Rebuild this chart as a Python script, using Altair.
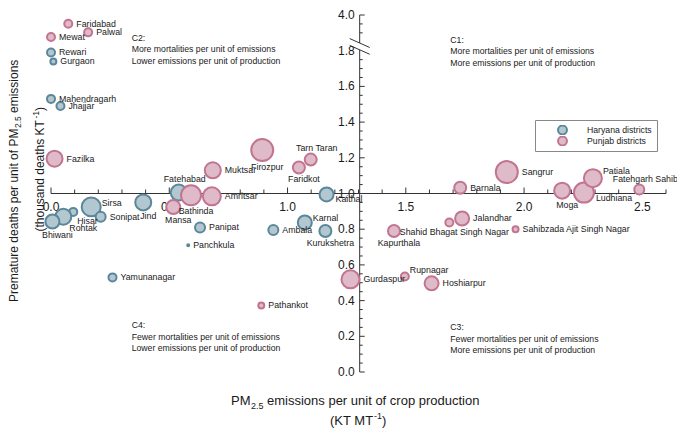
import altair as alt
import pandas as pd

FONT = "Liberation Sans"
TXT = "#1a1a1a"
AXC = "#333333"

# ---------------- data ----------------
districts = [
    "Rewari", "Gurgaon", "Mahendragarh", "Jhajjar", "Fatehabad", "Kaithal", "Sirsa", "Jind",
    "Hisar", "Rohtak", "Bhiwani", "Sonipat", "Panipat", "Panchkula", "Yamunanagar", "Ambala",
    "Karnal", "Kurukshetra",
    "Faridabad", "Palwal", "Mewat", "Fazilka", "Muktsar", "Firozpur", "Faridkot", "Tarn Taran",
    "Bathinda", "Amritsar", "Mansa", "Sangrur", "Barnala", "Moga", "Ludhiana", "Patiala",
    "Fatehgarh Sahib", "Jalandhar", "Shahid Bhagat Singh Nagar", "Kapurthala",
    "Sahibzada Ajit Singh Nagar", "Gurdaspur", "Rupnagar", "Hoshiarpur", "Pathankot",
]
group = ["Haryana districts"] * 18 + ["Punjab districts"] * 25
emis_per_prod = [
    0.00, 0.01, 0.00, 0.04, 0.54, 1.165, 0.17, 0.39, 0.094, 0.052, 0.006, 0.21, 0.63, 0.58,
    0.26, 0.94, 1.073, 1.16,
    0.073, 0.157, 0.00, 0.015, 0.684, 0.893, 1.048, 1.098, 0.592, 0.68, 0.517, 1.927, 1.73,
    2.161, 2.253, 2.291, 2.487, 1.738, 1.684, 1.45, 1.964, 1.266, 1.496, 1.609, 0.889,
]
deaths_per_emis = [
    1.79, 1.74, 1.53, 1.49, 1.005, 0.995, 0.925, 0.95, 0.897, 0.87, 0.843, 0.87, 0.81, 0.71,
    0.53, 0.795, 0.838, 0.79,
    3.46, 2.93, 2.64, 1.195, 1.13, 1.243, 1.146, 1.19, 0.99, 0.984, 0.924, 1.12, 1.032,
    1.016, 1.005, 1.086, 1.022, 0.86, 0.838, 0.79, 0.80, 0.519, 0.535, 0.497, 0.373,
]
bubble_value = [
    16, 9, 16, 16, 64, 49, 90, 64, 16, 64, 49, 25, 25, 1, 16, 25, 49, 36,
    16, 16, 16, 64, 64, 121, 36, 36, 100, 81, 49, 121, 36, 64, 100, 81, 25, 49, 16, 36, 9,
    81, 16, 49, 9,
]
label_side = [
    "E", "E", "E", "E", "N", "ES", "NE", "S", "SE", "SE", "S", "E", "E", "E", "E", "E", "NE", "S",
    "E", "E", "E", "E", "E", "S", "S", "N", "S", "E", "S", "E", "E", "S", "ES", "NNE", "N", "E",
    "S", "S", "E", "E", "NNE", "E", "E",
]

groups = ["Haryana districts", "Punjab districts"]
fills = ["#b3c7d0", "#dfbac8"]
strokes = ["#5b879b", "#c27590"]

# axis definitions
x_major = [0.0, 0.5, 1.0, 1.5, 2.0, 2.5]
x_major_labels = ["0.0", "0.5", "1.0", "1.5", "2.0", "2.5"]
x_minor = [0.1, 0.2, 0.3, 0.4, 0.6, 0.7, 0.8, 0.9, 1.1, 1.2, 1.3, 1.4, 1.6, 1.7, 1.8, 1.9,
           2.1, 2.2, 2.3, 2.4, 2.6]
y_major = [0.0, 0.2, 0.4, 0.6, 0.8, 1.0, 1.2, 1.4, 1.6, 2.0]
y_label_pos = [0.0, 0.2, 0.4, 0.6, 0.8, 1.0, 1.2, 1.4, 1.6, 1.8, 2.0]
y_labels = ["0.0", "0.2", "0.4", "0.6", "0.8", "1.0", "1.2", "1.4", "1.6", "1.8", "4.0"]
y_minor = [0.05, 0.1, 0.15, 0.25, 0.3, 0.35, 0.45, 0.5, 0.55, 0.65, 0.7, 0.75, 0.85, 0.9, 0.95,
           1.05, 1.1, 1.15, 1.25, 1.3, 1.35, 1.45, 1.5, 1.55, 1.65, 1.7, 1.75, 1.9, 1.95]
BREAK_LO = 1.8      # real value where the axis break starts
BREAK_TOP = 4.0     # real value drawn at the top of the axis
Y_AXIS_AT = 1.305   # x position of the vertical axis
X_AXIS_AT = 1.0     # y position of the horizontal axis

quad_x = [0.341, 1.688, 1.688, 0.341]
quad_y = [1.895, 1.884, 0.273, 0.284]
quad_text = [
    "C2:\nMore mortalities per unit of emissions\nLower emissions per unit of production",
    "C1:\nMore mortalities per unit of emissions\nMore emissions per unit of production",
    "C3:\nFewer mortalities per unit of emissions\nMore emissions per unit of production",
    "C4:\nFewer mortalities per unit of emissions\nLower emissions per unit of production",
]

df = pd.DataFrame({
    "name": districts, "group": group, "emis": emis_per_prod,
    "deaths": deaths_per_emis, "bubble": bubble_value, "side": label_side,
})

XS = alt.Scale(domain=[0, 2.6], nice=False, zero=False)
YS = alt.Scale(domain=[0, 2.0], nice=False, zero=False)


def xq(f):
    return alt.X(f"{f}:Q", scale=XS, axis=None)


def yq(f):
    return alt.Y(f"{f}:Q", scale=YS, axis=None)


yp_expr = (f"datum.deaths > {BREAK_LO} ? {BREAK_LO} + (datum.deaths - {BREAK_LO}) * "
           f"(2.0 - {BREAK_LO}) / ({BREAK_TOP} - {BREAK_LO}) : datum.deaths")

base = alt.Chart(df).transform_calculate(yp=yp_expr)

leg = alt.Legend(
    orient="none", legendX=484, legendY=105, title=None, symbolType="circle",
    symbolSize=80, symbolStrokeWidth=2, labelFont=FONT, labelFontSize=8.7, labelColor=TXT,
    strokeColor="#888888", fillColor="white", padding=5, rowPadding=1, symbolOffset=17,
    labelOffset=19, clipHeight=10,
)

points = base.mark_circle(opacity=1, strokeWidth=2).encode(
    x=xq("emis"), y=yq("yp"),
    size=alt.Size("bubble:Q", scale=alt.Scale(domain=[0, 121], range=[0, 484]), legend=None),
    fill=alt.Fill("group:N", scale=alt.Scale(domain=groups, range=fills), legend=leg),
    stroke=alt.Stroke("group:N", scale=alt.Scale(domain=groups, range=strokes), legend=leg),
)

lab = base.transform_calculate(R="sqrt(datum.bubble) + 1").transform_calculate(
    ldx="datum.side == 'E' ? datum.R + 3 : (datum.side == 'NE' || datum.side == 'NNE') ? datum.R : "
        "datum.side == 'ES' ? datum.R + 1 : datum.side == 'SE' ? 0.5 * (datum.R + 3) : "
        "datum.side == 'S' ? 5 : datum.side == 'N' ? 6 : 0",
    ldy="datum.side == 'NE' ? -4 : datum.side == 'NNE' ? -7 : datum.side == 'ES' ? 5 : "
        "datum.side == 'SE' ? 0.6 * (datum.R + 3) + 4 : datum.side == 'S' ? datum.R + 5 : "
        "datum.side == 'N' ? -(datum.R + 5) : 0",
)
lab_left = lab.transform_filter("indexof(['E','NE','NNE','ES','SE'], datum.side) >= 0").mark_text(
    align="left", baseline="middle", font=FONT, fontSize=8.8, color=TXT,
    dx=alt.ExprRef(expr="datum.ldx"), dy=alt.ExprRef(expr="datum.ldy"),
).encode(x=xq("emis"), y=yq("yp"), text="name:N")
lab_center = lab.transform_filter("datum.side == 'S' || datum.side == 'N'").mark_text(
    align="center", baseline="middle", font=FONT, fontSize=8.8, color=TXT,
    dx=alt.ExprRef(expr="datum.ldx"), dy=alt.ExprRef(expr="datum.ldy"),
).encode(x=xq("emis"), y=yq("yp"), text="name:N")

# ---------------- custom crossing axes ----------------
xaxis_line = alt.Chart(pd.DataFrame({"x0": [0.0], "x1": [2.6], "y": [X_AXIS_AT]})).mark_rule(
    color=AXC, strokeWidth=1).encode(x=xq("x0"), x2="x1", y=yq("y"))
xt_major = alt.Chart(pd.DataFrame({"x": x_major, "y": [X_AXIS_AT] * len(x_major)})).mark_rule(
    color=AXC, strokeWidth=1, y2Offset=-6).encode(x=xq("x"), y=yq("y"), y2="y")
xt_minor = alt.Chart(pd.DataFrame({"x": x_minor, "y": [X_AXIS_AT] * len(x_minor)})).mark_rule(
    color=AXC, strokeWidth=1, y2Offset=-4).encode(x=xq("x"), y=yq("y"), y2="y")
xt_labels = alt.Chart(pd.DataFrame({"x": x_major, "y": [X_AXIS_AT] * len(x_major),
                                    "lab": x_major_labels})).mark_text(
    align="center", baseline="middle", dy=13, font=FONT, fontSize=12, color=TXT
).encode(x=xq("x"), y=yq("y"), text="lab:N")

yaxis_segs = alt.Chart(pd.DataFrame({"ax": [Y_AXIS_AT, Y_AXIS_AT], "y0": [0.0, 1.843],
                                     "y1": [1.805, 2.0]})).mark_rule(
    color=AXC, strokeWidth=1).encode(x=xq("ax"), y=yq("y0"), y2="y1")
ybreak = alt.Chart(pd.DataFrame({"ax": [Y_AXIS_AT, Y_AXIS_AT], "ya": [1.868, 1.83],
                                 "yb": [1.818, 1.78]})).mark_rule(
    color=AXC, strokeWidth=1, xOffset=-10, x2Offset=10).encode(
    x=xq("ax"), x2="ax", y=yq("ya"), y2="yb")
yt_major = alt.Chart(pd.DataFrame({"ax": [Y_AXIS_AT] * len(y_major), "t": y_major})).mark_rule(
    color=AXC, strokeWidth=1, x2Offset=5).encode(x=xq("ax"), x2="ax", y=yq("t"))
yt_minor = alt.Chart(pd.DataFrame({"ax": [Y_AXIS_AT] * len(y_minor), "t": y_minor})).mark_rule(
    color=AXC, strokeWidth=1, x2Offset=3).encode(x=xq("ax"), x2="ax", y=yq("t"))
yt_labels = alt.Chart(pd.DataFrame({"ax": [Y_AXIS_AT] * len(y_label_pos), "t": y_label_pos,
                                    "lab": y_labels})).mark_text(
    align="right", baseline="middle", dx=-5, font=FONT, fontSize=12, color=TXT
).encode(x=xq("ax"), y=yq("t"), text="lab:N")

quads = alt.Chart(pd.DataFrame({"x": quad_x, "y": quad_y, "txt": quad_text})).mark_text(
    align="left", baseline="top", lineBreak="\n", lineHeight=11.5, font=FONT, fontSize=8.7,
    color=TXT).encode(x=xq("x"), y=yq("y"), text="txt:N")


# ---------------- axis titles (with sub/superscripts) ----------------
def piece(text, x, y, size, dx=0, dy=0, angle=0):
    kw = dict(align="left", baseline="middle", font=FONT, fontSize=size, color=TXT, dx=dx, dy=dy)
    if angle:
        kw["angle"] = angle
    return alt.Chart(pd.DataFrame({"t": [text]})).mark_text(**kw).encode(
        x=alt.value(x), y=alt.value(y), text="t:N")


titles = [
    piece("PM", 180, 386, 13),
    piece("2.5", 200, 386, 9, dy=5),
    piece("emissions per unit of crop production", 216, 386, 13),
    piece("(KT MT", 279, 406, 13),
    piece("-1", 323, 406, 9, dy=-5),
    piece(")", 331, 406, 13),
    piece("Premature deaths per unit of PM", -37, 166, 12, dx=-121, angle=270),
    piece("2.5", -37, 166, 8.5, dx=52.9, dy=4, angle=270),
    piece("emissions", -37, 166, 12, dx=68, angle=270),
    piece("(thousand deaths KT", -11, 155, 12, dx=-61.5, angle=270),
    piece("-1", -11, 155, 8.5, dx=51.5, dy=-4, angle=270),
    piece(")", -11, 155, 12, dx=59, angle=270),
]

chart = alt.layer(
    xaxis_line, xt_major, xt_minor, xt_labels,
    yaxis_segs, ybreak, yt_major, yt_minor, yt_labels,
    quads, points, lab_left, lab_center, *titles,
).properties(
    width=615, height=357,
    autosize=alt.AutoSizeParams(type="none"),
    padding={"left": 43, "top": 7, "right": 11, "bottom": 58},
).configure_view(stroke=None)

chart.save("out.html", embed_options={"renderer": "svg", "actions": False})
